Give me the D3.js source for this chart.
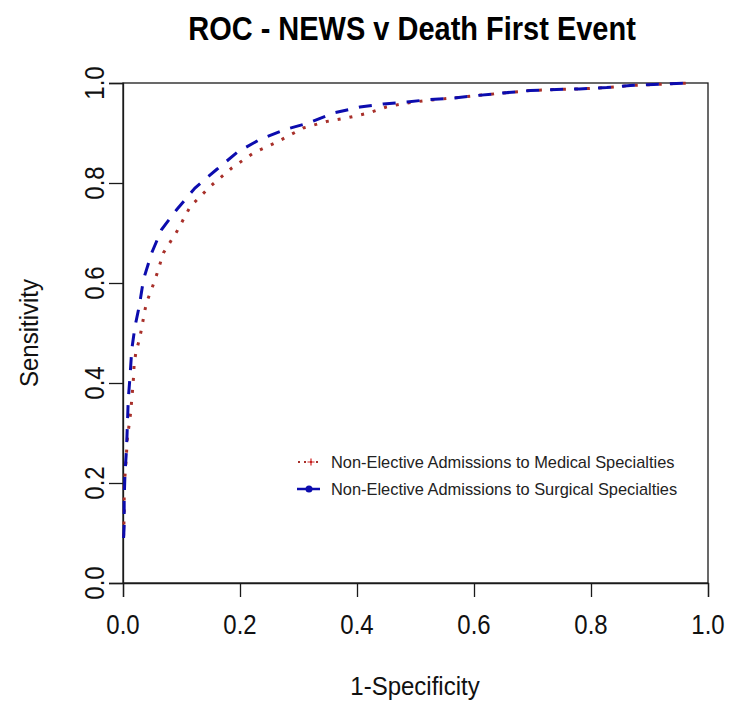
<!DOCTYPE html>
<html>
<head>
<meta charset="utf-8">
<script src="https://cdn.jsdelivr.net/npm/d3@7"></script>
<style>
  body { margin: 0; background: #fff; }
  text { font-family: Arial, "Liberation Sans", sans-serif; }
</style>
</head>
<body>
<svg id="chart" width="730" height="706"></svg>
<script>
const titleText = "ROC - NEWS v Death First Event";
const xLabel = "1-Specificity";
const yLabel = "Sensitivity";
const tickValues = [0, 0.2, 0.4, 0.6, 0.8, 1.0];
const seriesNames = ["Non-Elective Admissions to Medical Specialties",
                     "Non-Elective Admissions to Surgical Specialties"];

const medicalFpr = [0.001,0.002,0.002,0.005,0.0075,0.013,0.0165,0.018,0.019,0.022,0.028,0.032,0.036,0.04,0.055,0.069,0.092,0.115,0.149,0.186,0.223,0.265,0.308,0.348,0.382,0.42,0.45,0.485,0.525,0.565,0.605,0.65,0.696,0.741,0.78,0.827,0.867,0.907,0.946,0.97];
const medicalTpr = [0.093,0.14,0.193,0.24,0.29,0.34,0.388,0.412,0.437,0.461,0.487,0.51,0.537,0.56,0.607,0.66,0.703,0.753,0.793,0.83,0.86,0.883,0.91,0.923,0.93,0.94,0.952,0.96,0.966,0.97,0.975,0.98,0.985,0.987,0.988,0.991,0.995,0.997,0.999,1.0];

const surgicalFpr = [0.001,0.002,0.002,0.0034,0.006,0.0075,0.009,0.012,0.015,0.0205,0.028,0.035,0.049,0.066,0.092,0.123,0.16,0.197,0.234,0.277,0.317,0.36,0.405,0.445,0.485,0.525,0.565,0.605,0.65,0.696,0.741,0.78,0.827,0.867,0.907,0.946,0.97];
const surgicalTpr = [0.09,0.113,0.167,0.22,0.267,0.317,0.367,0.413,0.467,0.513,0.555,0.607,0.66,0.707,0.747,0.79,0.827,0.863,0.887,0.907,0.92,0.94,0.952,0.958,0.962,0.967,0.97,0.975,0.98,0.985,0.987,0.988,0.991,0.995,0.997,0.999,1.0];

(function () {
const svg = d3.select("#chart");
const pLeft = 123, pRight = 708, pTop = 83, pBottom = 583;
const x = d3.scaleLinear().domain([0, 1]).range([pLeft, pRight]);
const y = d3.scaleLinear().domain([0, 1]).range([pBottom, pTop]);

const sy = 1.12; // vertical stretch of text seen in the reference

function label(txt, px, py, opts) {
  const g = svg.append("g").attr("transform",
    `translate(${px},${py}) rotate(${opts.rotate||0}) scale(1,${opts.sy || sy})`);
  return g.append("text")
    .attr("text-anchor", opts.anchor || "middle")
    .attr("font-size", opts.size)
    .attr("font-weight", opts.weight || "normal")
    .attr("fill", opts.fill || "#111")
    .text(txt);
}

// title
label(titleText, 412, 40, {size: 29, weight: "bold", fill: "#000"});

// box
svg.append("rect").attr("x", pLeft).attr("y", pTop)
  .attr("width", pRight - pLeft).attr("height", pBottom - pTop)
  .attr("fill", "none").attr("stroke", "#1a1a1a").attr("stroke-width", 1.3);

// axes
const xAxis = d3.axisBottom(x).tickValues(tickValues).tickSize(14).tickFormat(d3.format(".1f"));
const yAxis = d3.axisLeft(y).tickValues(tickValues).tickSize(14).tickFormat(d3.format(".1f"));
const gx = svg.append("g").attr("transform", `translate(0,${pBottom})`).call(xAxis);
const gy = svg.append("g").attr("transform", `translate(${pLeft},0)`).call(yAxis);
[gx, gy].forEach(g => {
  g.select(".domain").attr("stroke", "#1a1a1a").attr("stroke-width", 1.3);
  g.selectAll(".tick line").attr("stroke", "#1a1a1a").attr("stroke-width", 1.3);
  g.selectAll(".tick text").remove();
});
tickValues.forEach(v => {
  label(d3.format(".1f")(v), x(v), 634, {size: 24});
  label(d3.format(".1f")(v), 104, y(v), {size: 24, rotate: -90});
});

// axis titles
label(xLabel, 415, 695, {size: 24, sy: 1.05});
label(yLabel, 38, 333, {size: 24, rotate: -90, sy: 1.05});

// curves
const line = d3.line().x(d => x(d[0])).y(d => y(d[1]));
const medical = medicalFpr.map((f, i) => [f, medicalTpr[i]]);
const surgical = surgicalFpr.map((f, i) => [f, surgicalTpr[i]]);
const redCol = "#a8302a", blueCol = "#0c0cae";

svg.append("path").datum(medical).attr("d", line)
  .attr("fill", "none").attr("stroke", redCol).attr("stroke-width", 3)
  .attr("stroke-dasharray", "3,9");
svg.append("path").datum(surgical).attr("d", line)
  .attr("fill", "none").attr("stroke", blueCol).attr("stroke-width", 3)
  .attr("stroke-dasharray", "13,11");

// legend
const legY = [462, 489];
const lg = svg.append("g");
lg.append("line").attr("x1", 298).attr("x2", 320).attr("y1", legY[0]).attr("y2", legY[0])
  .attr("stroke", redCol).attr("stroke-width", 2).attr("stroke-dasharray", "2,4");
lg.append("path")
  .attr("transform", `translate(311,${legY[0]})`)
  .attr("fill", "none").attr("stroke", "#d02020").attr("stroke-width", 1.2)
  .attr("d", "M-3.5,0H3.5M0,-3.5V3.5");
lg.append("line").attr("x1", 297).attr("x2", 320).attr("y1", legY[1]).attr("y2", legY[1])
  .attr("stroke", blueCol).attr("stroke-width", 2.5);
lg.append("circle").attr("cx", 309).attr("cy", legY[1]).attr("r", 3.5).attr("fill", blueCol);
seriesNames.forEach((s, i) => {
  label(s, 331, legY[i] + 5.5, {size: 16.4, anchor: "start", fill: "#222", sy: 1.0});
});
})();
</script>
</body>
</html>
